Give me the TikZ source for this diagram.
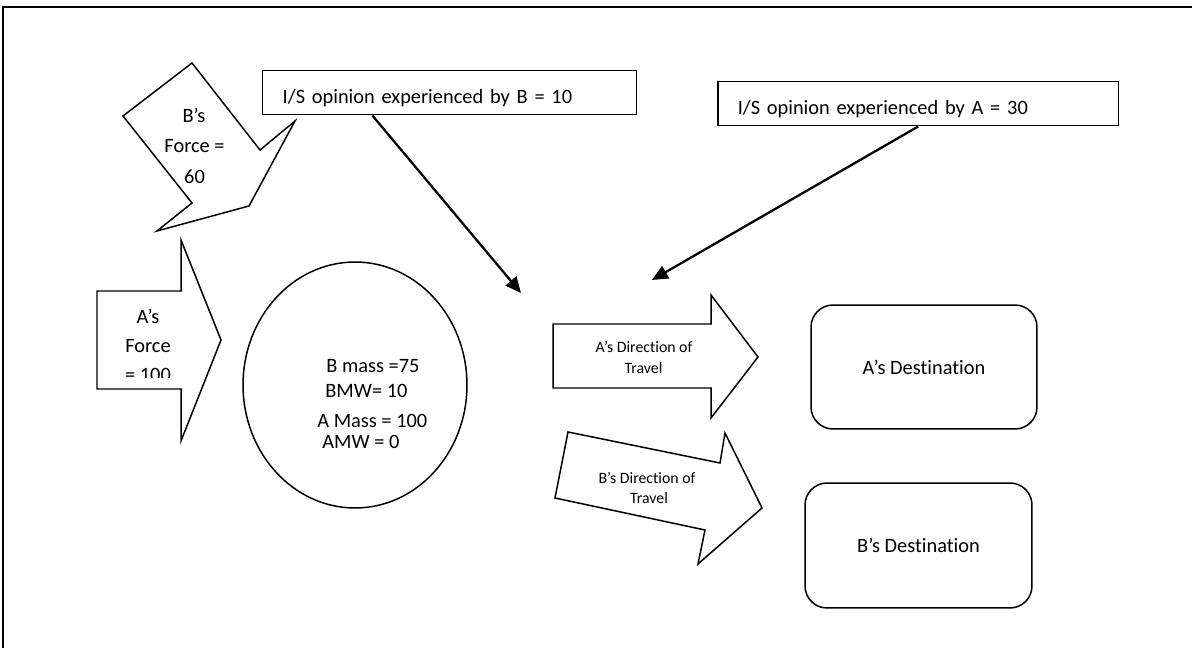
\documentclass[tikz,border=0pt]{standalone}
\usepackage{fontspec}
\setmainfont{Carlito}[Ligatures={NoCommon}]
\usetikzlibrary{shapes.geometric,arrows.meta,calc}
\begin{document}
\begin{tikzpicture}[x=0.02cm,y=-0.02cm,
  outline/.style={draw=black, line width=0.85pt, line join=miter},
  txt/.style={font=\fontsize{11.6}{14}\selectfont, inner sep=0pt},
  small/.style={font=\fontsize{9}{11}\selectfont, inner sep=0pt},
  opinion/.style={outline, anchor=north west, txt, align=left,
    inner xsep=0.4cm, inner ysep=0pt, text height=0.66cm, text depth=0.22cm},
  dest/.style={outline, rounded corners=0.44cm, txt},
  conn/.style={line width=1.3pt, -{Triangle[length=9pt,width=8pt]}},
  frame/.style={line width=1.1pt}]

\useasboundingbox (0,0) rectangle (1192,648);

% page frame (top and left rules only)
\draw[frame] (3,648) -- (3,7) -- (1192,7);

% opinion boxes
\node[opinion, text width=6.68cm] (isb) at (262,70) {I/S opinion experienced by B = 10};
\node[opinion, text width=7.22cm] (isa) at (717,81) {I/S opinion experienced by A = 30};

% B's force block arrow (tilted)
\draw[outline] (192,63) -- (260,150) -- (295,121) -- (249,206) -- (157,231)
  -- (192,203) -- (123,116) -- cycle;
\node[txt, anchor=base] (bf1) at (194,123) {B’s};
\node[txt, anchor=base] (bf2) at (194.5,153) {Force =};
\node[txt, anchor=base] (bf3) at (194.5,184) {60};

% A's force block arrow
\draw[outline] (97,291) -- (181,291) -- (181,240) -- (221,340) -- (181,441)
  -- (181,389) -- (97,389) -- cycle;
\node[txt, anchor=base] (af1) at (148,323) {A’s};
\node[txt, anchor=base] (af2) at (148,352) {Force};
\begin{scope}
  \clip (97,291) rectangle (181,377);
  \node[txt, anchor=base] (af3) at (148,381) {= 100};
\end{scope}

% mass circle
\node[outline, ellipse, minimum width=4.48cm, minimum height=4.92cm, inner sep=0pt] (mass) at (355,385) {};
\node[txt, anchor=base west] (m1) at (326,372) {B mass =75};
\node[txt, anchor=base west] (m2) at (325,397) {BMW= 10};
\node[txt, anchor=base west] (m3) at (317,427) {A Mass = 100};
\node[txt, anchor=base west] (m4) at (322,448) {AMW = 0};

% A's direction of travel
\draw[outline] (553,324) -- (711,324) -- (711,295) -- (758,357) -- (711,418)
  -- (711,388) -- (553,388) -- cycle;
\node[small, anchor=base] (ad1) at (644,352) {A’s Direction of};
\node[small, anchor=base] (ad2) at (643.5,373) {Travel};

% B's direction of travel (tilted)
\draw[outline] (568,432) -- (720,463) -- (725,433) -- (762,508) -- (698,564)
  -- (705,530) -- (555,498) -- cycle;
\node[small, anchor=base] (bd1) at (647,483) {B’s Direction of};
\node[small, anchor=base] (bd2) at (649,503) {Travel};

% destinations
\node[dest, minimum width=4.52cm, minimum height=2.48cm] (desta) at (924,367) {A’s Destination};
\node[dest, minimum width=4.54cm, minimum height=2.5cm] (destb) at (918.5,545.5) {B’s Destination};

% influence connectors
\coordinate (tipB) at (521,293);
\coordinate (tipA) at (652,280);
\draw[conn] ($(isb.south west)!0.294!(isb.south east)$) -- (tipB);
\draw[conn] (isa.south) -- (tipA);

\end{tikzpicture}
\end{document}
